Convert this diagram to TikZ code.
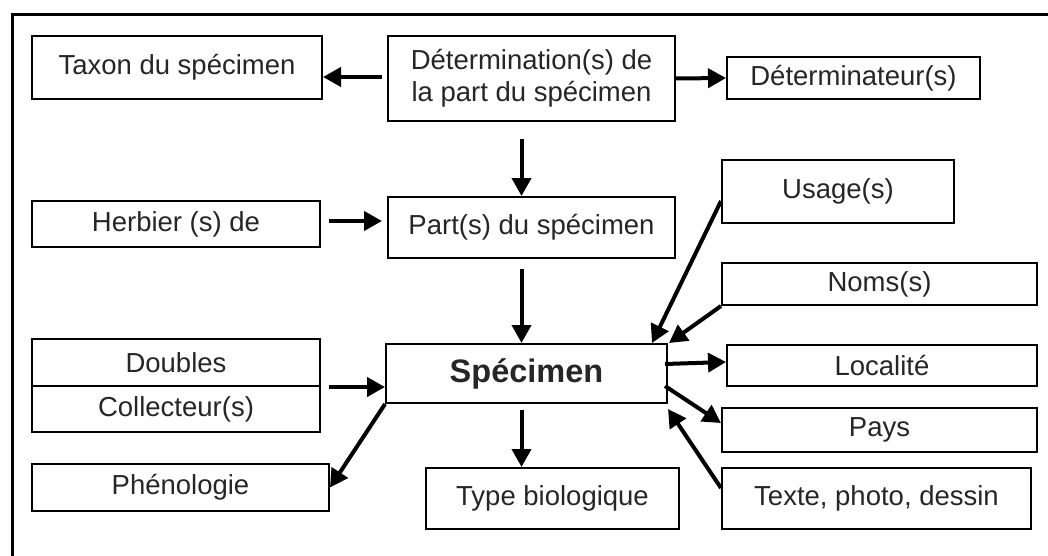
\documentclass[tikz,border=0pt]{standalone}
\usepackage{fontspec}
\setmainfont{Liberation Sans}
\usepackage{tikz}
\usetikzlibrary{positioning, calc, arrows.meta}

\begin{document}
\begin{tikzpicture}[x=1pt, y=-1pt]
\tikzstyle{entity}=[draw=black, line width=2pt, fill=white, text=black!85, inner sep=0pt, align=center, font=\fontsize{27.5}{32}\selectfont]
\tikzstyle{link}=[-{Triangle[length=18pt, width=19pt]}, line width=4pt, black]

\useasboundingbox (0,0) rectangle (1048,556);
\draw [line width=3pt] (1048,15) -- (12,15) -- (12,556);

\node (tax)   at (177,67.5)  [entity, minimum width=290pt, minimum height=63pt] {Taxon du spécimen};
\node (det)   at (531.5,78.5) [entity, minimum width=287pt, minimum height=85pt] {Détermination(s) de\\la part du spécimen};
\node (detr)  at (853.5,78)  [entity, minimum width=253pt, minimum height=42pt] {Déterminateur(s)};
\node (herb)  at (176,224)   [entity, minimum width=288pt, minimum height=46pt] {Herbier (s) de};
\node (part)  at (531.5,227.5) [entity, minimum width=287pt, minimum height=61pt] {Part(s) du spécimen};
\node (usage) at (838,191.5) [entity, minimum width=232pt, minimum height=63pt] {Usage(s)};
\node (noms)  at (879.5,284) [entity, minimum width=315pt, minimum height=42pt] {Noms(s)};

\node (dbl)   at (176,362.5) [entity, minimum width=288pt, minimum height=47pt] {Doubles};
\node (coll)  at (176,409)   [entity, minimum width=288pt, minimum height=46pt] {Collecteur(s)};
\node (phen)  at (180.5,487.5) [entity, minimum width=297pt, minimum height=47pt] {Phénologie};
\node (spec)  at (526.5,373.5) [entity, minimum width=281pt, minimum height=59pt, font=\fontsize{32.5}{38}\selectfont\bfseries] {Spécimen};
\node (type)  at (552.5,498.5) [entity, minimum width=253pt, minimum height=61pt] {Type biologique};
\node (loc)   at (882,365.5) [entity, minimum width=310pt, minimum height=41pt] {Localité};
\node (pays)  at (879.5,430) [entity, minimum width=315pt, minimum height=44pt] {Pays};
\node (txt)   at (876.5,498.5) [entity, minimum width=309pt, minimum height=61pt] {Texte, photo, dessin};

%% upper part
\draw [link, shorten <=5pt] ([yshift=1.5pt]det.west) -- ([yshift=1.5pt]det.west -| tax.east);
\draw [link] (det.east) -- (detr.west);
\draw [link, shorten <=17pt] ([xshift=-10pt]det.south) -- ([xshift=-10pt]det.south |- part.north);
\draw [link, shorten <=8pt, shorten >=5pt] ([yshift=3pt]herb.east) -- ([yshift=3pt]herb.east -| part.west);
\draw [link, shorten <=10pt] ([xshift=-10pt]part.south) -- ([xshift=-10pt]part.south |- spec.north);

%% around the specimen
\draw [link, shorten <=8pt] (dbl.south east) -- (dbl.south east -| spec.west);
\draw [link] (spec.south west) -- (phen.east);
\draw [link, shorten <=6pt] ([xshift=-5pt]spec.south) -- ([xshift=-5pt]spec.south |- type.north);
\draw [link] ([yshift=-9.5pt]usage.west) -- ([xshift=125.5pt]spec.north);
\draw [link] (noms.south west) -- ([xshift=142.5pt]spec.north);
\draw [link] ([xshift=-3pt, yshift=9.5pt]spec.east) -- ([yshift=3.5pt]loc.west);
\draw [link] ([xshift=-3pt, yshift=-12.5pt]spec.east) -- ([yshift=7pt]pays.west);
\draw [link] ([yshift=10.5pt]txt.west) -- ([yshift=-35.5pt]spec.east);
\end{tikzpicture}
\end{document}
